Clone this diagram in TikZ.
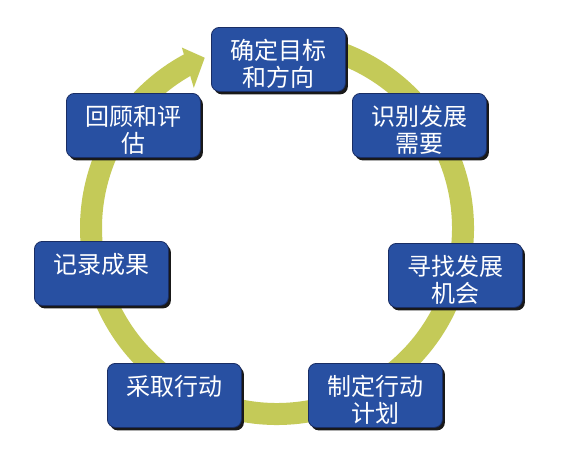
\documentclass[tikz,border=0pt]{standalone}
\usepackage{fontspec}
\newfontfamily\cjk{Noto Sans CJK SC}
\usetikzlibrary{shadows,calc}
\definecolor{ringcol}{RGB}{196,202,88}
\definecolor{boxblue}{RGB}{40,80,162}
\definecolor{boxedge}{RGB}{25,45,100}
\begin{document}
\begin{tikzpicture}[x=1pt,y=1pt,
 stepbox/.style={draw=boxedge, line width=0.8pt, fill=boxblue, rounded corners=8pt,
   minimum width=134pt, minimum height=64pt, inner sep=0pt, anchor=north west,
   drop shadow={shadow xshift=2.5pt, shadow yshift=-3pt, fill=black!90, opacity=1}},
 steptext/.style={anchor=north, inner sep=0pt, text=white, align=center,
   font=\cjk\fontsize{24}{27}\selectfont},
 ringline/.style={draw=ringcol, line width=22pt}]
\useasboundingbox[fill=white] (0,0) rectangle (569,-469);
\coordinate (c) at (277,-228);
\draw[ringline] (c) ++(95:186) arc[start angle=95, end angle=-242, radius=186];
\fill[ringcol] ($(c)+(113:185)$) -- ($(c)+(117.8:204)$) -- ($(c)+(120.7:163)$) -- cycle;

\node[stepbox] (a) at (211,-27) {};
\node[steptext] (at) at ([yshift=-12pt]a.north) {确定目标\\和方向};
\node[stepbox] (b) at (352,-93) {};
\node[steptext] (bt) at ([yshift=-12pt]b.north) {识别发展\\需要};
\node[stepbox] (cc) at (388,-243) {};
\node[steptext] (ct) at ([yshift=-12pt]cc.north) {寻找发展\\机会};
\node[stepbox] (d) at (308,-363) {};
\node[steptext] (dt) at ([yshift=-12pt]d.north) {制定行动\\计划};
\node[stepbox] (e) at (107,-363) {};
\node[steptext] (et) at ([yshift=-12pt]e.north) {采取行动};
\node[stepbox] (f) at (34,-241) {};
\node[steptext] (ft) at ([yshift=-12pt]f.north) {记录成果};
\node[stepbox] (g) at (66,-93) {};
\node[steptext] (gt) at ([yshift=-12pt]g.north) {回顾和评\\估};
\end{tikzpicture}
\end{document}
